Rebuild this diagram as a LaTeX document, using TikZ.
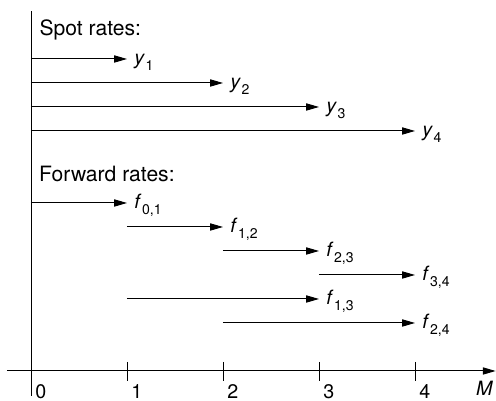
\documentclass[tikz,border=0pt]{standalone}
\usepackage{fontspec}
\setmainfont{TeX Gyre Heros}
\usetikzlibrary{arrows.meta}
\tikzset{
  axisline/.style = {line width=0.7pt},
  rate/.style     = {line width=0.7pt, -{Triangle[length=3.2mm,width=1.8mm]}},
  lbl/.style      = {anchor=base west, inner sep=0pt, xshift=1.7mm, yshift=-1.3mm,
                     font=\fontsize{14}{16}\selectfont},
  head/.style     = {anchor=base west, inner sep=0pt, font=\fontsize{15}{18}\selectfont},
  ticklbl/.style  = {anchor=north west, inner sep=0pt, font=\fontsize{14}{16}\selectfont},
}
\newcommand{\rt}[2]{\textit{#1}\kern0.5pt\raisebox{-0.6ex}{\fontsize{10}{10}\selectfont #2}}

\begin{document}
\begin{tikzpicture}[x=2.4cm,y=2.4cm]
  \useasboundingbox (-0.3229,-0.3125) rectangle (4.8438,3.8646);
  \coordinate (vtop) at (0,3.75);
  \coordinate (vbot) at (0,-0.26);
  \coordinate (hl) at (-0.25,0);
  \coordinate (hr) at (4.84,0);
  \draw[axisline] (vbot) -- (vtop);
  \draw[rate] (hl) -- (hr);
  \foreach \i in {0,...,4}
    \draw[axisline] (\i,0.094) -- (\i,-0.104) node[ticklbl, xshift=1mm, yshift=-0.7mm] (t\i) {\i};
  \node[ticklbl] (m) at (4.635,-0.104) {\textit{M}};
  \node[head] (spot) at (0.087,3.49) {Spot rates:};
  \node[head] (fwd) at (0.083,1.979) {Forward rates:};
  \coordinate (s1) at (0,3.25);  \coordinate (e1) at (1,3.25);
  \coordinate (s2) at (0,3.0);   \coordinate (e2) at (2,3.0);
  \coordinate (s3) at (0,2.75);  \coordinate (e3) at (3,2.75);
  \coordinate (s4) at (0,2.5);   \coordinate (e4) at (4,2.5);
  \draw[rate] (s1) -- (e1) node[lbl] (y1) {\rt{y}{1}};
  \draw[rate] (s2) -- (e2) node[lbl] (y2) {\rt{y}{2}};
  \draw[rate] (s3) -- (e3) node[lbl] (y3) {\rt{y}{3}};
  \draw[rate] (s4) -- (e4) node[lbl] (y4) {\rt{y}{4}};
  \coordinate (a01) at (0,1.75); \coordinate (b01) at (1,1.75);
  \coordinate (a12) at (1,1.5);  \coordinate (b12) at (2,1.5);
  \coordinate (a23) at (2,1.25); \coordinate (b23) at (3,1.25);
  \coordinate (a34) at (3,1.0);  \coordinate (b34) at (4,1.0);
  \coordinate (a13) at (1,0.75); \coordinate (b13) at (3,0.75);
  \coordinate (a24) at (2,0.5);  \coordinate (b24) at (4,0.5);
  \draw[rate] (a01) -- (b01) node[lbl] (f01) {\rt{f}{0,1}};
  \draw[rate] (a12) -- (b12) node[lbl] (f12) {\rt{f}{1,2}};
  \draw[rate] (a23) -- (b23) node[lbl] (f23) {\rt{f}{2,3}};
  \draw[rate] (a34) -- (b34) node[lbl] (f34) {\rt{f}{3,4}};
  \draw[rate] (a13) -- (b13) node[lbl] (f13) {\rt{f}{1,3}};
  \draw[rate] (a24) -- (b24) node[lbl] (f24) {\rt{f}{2,4}};
\end{tikzpicture}
\end{document}
